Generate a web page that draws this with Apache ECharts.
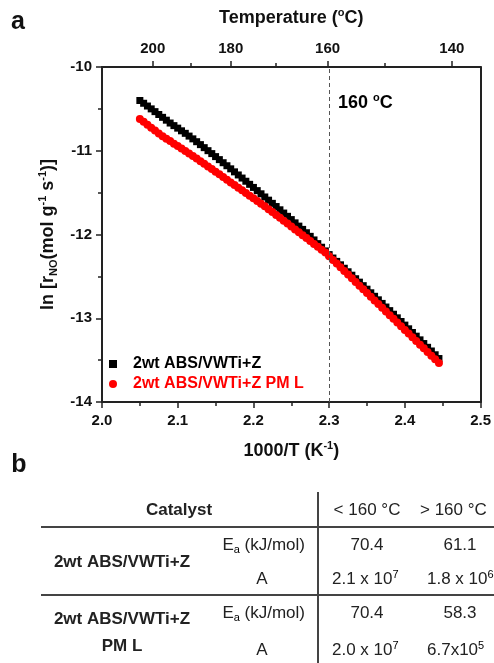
<!DOCTYPE html>
<html><head><meta charset="utf-8">
<script src="https://cdn.jsdelivr.net/npm/echarts@6/dist/echarts.min.js"></script>
<style>html,body{margin:0;padding:0;background:#fff}#c{width:494px;height:663px}</style>
</head><body><div id="c"></div>
<script>
// ---- data ----
const invT = [2.050,2.055,2.060,2.065,2.070,2.075,2.080,2.085,2.090,2.095,
  2.100,2.105,2.110,2.115,2.120,2.125,2.130,2.135,2.140,2.145,
  2.150,2.155,2.160,2.165,2.170,2.175,2.180,2.185,2.190,2.195,
  2.200,2.205,2.210,2.215,2.220,2.225,2.230,2.235,2.240,2.245,
  2.250,2.255,2.260,2.265,2.270,2.275,2.280,2.285,2.290,2.295,
  2.300,2.305,2.310,2.315,2.320,2.325,2.330,2.335,2.340,2.345,
  2.350,2.355,2.360,2.365,2.370,2.375,2.380,2.385,2.390,2.395,
  2.400,2.405,2.410,2.415,2.420,2.425,2.430,2.435,2.440,2.445];
const lnR_Z = [-10.400,-10.433,-10.466,-10.500,-10.533,-10.567,-10.601,-10.635,-10.669,-10.700,
  -10.730,-10.762,-10.792,-10.825,-10.858,-10.892,-10.927,-10.963,-10.999,-11.034,
  -11.070,-11.106,-11.143,-11.179,-11.216,-11.252,-11.289,-11.326,-11.364,-11.401,
  -11.438,-11.476,-11.514,-11.552,-11.590,-11.628,-11.666,-11.705,-11.744,-11.783,
  -11.822,-11.861,-11.900,-11.939,-11.979,-12.022,-12.065,-12.109,-12.152,-12.196,
  -12.240,-12.281,-12.321,-12.362,-12.403,-12.445,-12.486,-12.528,-12.569,-12.611,
  -12.653,-12.696,-12.738,-12.780,-12.823,-12.866,-12.909,-12.952,-12.995,-13.039,
  -13.082,-13.126,-13.170,-13.214,-13.258,-13.302,-13.347,-13.391,-13.436,-13.481];
const lnR_ZPML = [-10.620,-10.655,-10.690,-10.725,-10.759,-10.793,-10.826,-10.856,-10.885,-10.915,
  -10.944,-10.974,-11.003,-11.033,-11.062,-11.092,-11.124,-11.155,-11.187,-11.219,
  -11.251,-11.282,-11.314,-11.346,-11.378,-11.409,-11.441,-11.473,-11.505,-11.536,
  -11.568,-11.600,-11.632,-11.663,-11.698,-11.732,-11.767,-11.801,-11.836,-11.870,
  -11.905,-11.939,-11.974,-12.008,-12.043,-12.077,-12.112,-12.146,-12.181,-12.215,
  -12.259,-12.303,-12.347,-12.391,-12.435,-12.479,-12.523,-12.567,-12.611,-12.655,
  -12.699,-12.743,-12.787,-12.831,-12.875,-12.919,-12.963,-13.007,-13.051,-13.095,
  -13.139,-13.183,-13.227,-13.271,-13.315,-13.359,-13.403,-13.447,-13.491,-13.535];
const seriesNames = ['2wt ABS/VWTi+Z', '2wt ABS/VWTi+Z PM L'];
const seriesColors = ['#000000', '#ff0000'];
// top temperature axis: tick positions in 1000/T units, with labels (°C)
const topTickPos = [2.067, 2.170, 2.298, 2.462];
const topTickLabels = ['200', '180', '160', '140'];
const topMinorPos = [2.117, 2.230, 2.374];
const splitX = 2.3;
// table (panel b)
const tableHeader = ['Catalyst', '< 160 °C', '> 160 °C'];
const catalystLines = [['2wt ABS/VWTi+Z'], ['2wt ABS/VWTi+Z', 'PM L']];
const EaBelow = ['70.4', '70.4'];
const EaAbove = ['61.1', '58.3'];
const A_below = [['2.1 x 10', '7'], ['2.0 x 10', '7']];
const A_above = [['1.8 x 10', '6'], ['6.7x10', '5']];

// ---- chart ----
const FONT = '"Liberation Sans", Arial, sans-serif';
const chart = echarts.init(document.getElementById('c'), null, {renderer: 'canvas'});
const axLine = {show: true, lineStyle: {color: '#222', width: 2}};
const tickLbl = {fontFamily: FONT, fontWeight: 'bold', fontSize: 15, color: '#111'};

function pairs(ys) { return invT.map((x, i) => [x, ys[i]]); }

const G = [];
function txt(x, y, text, opt) {
  G.push(Object.assign({type: 'text', x: x, y: y, silent: true,
    style: Object.assign({text: text, fill: '#222', font: '17px ' + FONT,
      textAlign: 'center', textVerticalAlign: 'middle'}, opt || {})}));
}
function line(x1, y1, x2, y2, w, c) {
  G.push({type: 'line', silent: true, shape: {x1, y1, x2, y2},
    style: {stroke: c || '#333', lineWidth: w || 2}});
}
const richSup = {
  n: {fontFamily: FONT, fontSize: 17, lineHeight: 20, fill: '#222', color: '#222'},
  s: {fontFamily: FONT, fontSize: 11, lineHeight: 10, verticalAlign: 'top', color: '#222'},
  b: {fontFamily: FONT, fontSize: 11, lineHeight: 8, verticalAlign: 'bottom', color: '#222'}
};
// panel letters
txt(18, 22, 'a', {font: 'bold 25px ' + FONT, fill: '#111'});
txt(19, 465, 'b', {font: 'bold 25px ' + FONT, fill: '#111'});
// 160 °C annotation
G.push({type: 'text', x: 338, y: 103, silent: true, style: {
  text: '{n|160 }{s|o}{n|C}', textAlign: 'left', textVerticalAlign: 'middle',
  rich: {n: {fontFamily: FONT, fontWeight: 'bold', fontSize: 18, lineHeight: 22, color: '#111'},
         s: {fontFamily: FONT, fontWeight: 'bold', fontSize: 11, lineHeight: 12, verticalAlign: 'top', color: '#111'}}}});
// table lines
line(318, 492, 318, 663, 2, '#444');
line(41, 527, 494, 527, 2, '#444');
line(41, 595, 494, 595, 2, '#444');
// header
txt(179, 510, tableHeader[0], {font: 'bold 17px ' + FONT});
txt(367, 510, tableHeader[1]);
txt(420, 510, tableHeader[2], {textAlign: 'left'});
// rows
const rowY = [[545, 579], [613, 650]];
const catY = [[562], [619, 646]];
const catX = [[122], [122, 122]];
for (let r = 0; r < 2; r++) {
  catalystLines[r].forEach((s, k) => txt(catX[r][k], catY[r][k], s, {font: 'bold 17px ' + FONT}));
  G.push({type: 'text', x: 305, y: rowY[r][0], silent: true, style: {
    text: '{n|E}{b|a}{n| (kJ/mol)}', textAlign: 'right', textVerticalAlign: 'middle', rich: richSup}});
  txt(262, rowY[r][1], 'A');
  txt(367, rowY[r][0], EaBelow[r]);
  txt(460, rowY[r][0], EaAbove[r]);
  G.push({type: 'text', x: 332, y: rowY[r][1], silent: true, style: {
    text: '{n|' + A_below[r][0] + '}{s|' + A_below[r][1] + '}', textAlign: 'left', textVerticalAlign: 'middle', rich: richSup}});
  G.push({type: 'text', x: 427, y: rowY[r][1], silent: true, style: {
    text: '{n|' + A_above[r][0] + '}{s|' + A_above[r][1] + '}', textAlign: 'left', textVerticalAlign: 'middle', rich: richSup}});
}

const nameRich = {
  n: {fontFamily: FONT, fontWeight: 'bold', fontSize: 18, lineHeight: 22, color: '#111'},
  s: {fontFamily: FONT, fontWeight: 'bold', fontSize: 11, lineHeight: 12, verticalAlign: 'top', color: '#111'},
  b: {fontFamily: FONT, fontWeight: 'bold', fontSize: 11, lineHeight: 8, verticalAlign: 'bottom', color: '#111'}
};

const option = {
  animation: false,
  backgroundColor: '#fff',
  grid: {left: 102, right: 13, top: 67, bottom: 261},
  legend: {
    orient: 'vertical', left: 104, top: 351, itemGap: 4,
    itemWidth: 8, itemHeight: 8,
    textStyle: {fontFamily: FONT, fontWeight: 'bold', fontSize: 16, padding: [0, 0, 0, 11]},
    data: [
      {name: seriesNames[0], icon: 'rect', textStyle: {color: seriesColors[0]}},
      {name: seriesNames[1], icon: 'circle', textStyle: {color: seriesColors[1]}}
    ]
  },
  xAxis: [
    {type: 'value', position: 'bottom', min: 2.0, max: 2.5, interval: 0.1,
     axisLine: axLine, splitLine: {show: false},
     axisTick: {show: true, length: 6, lineStyle: {color: '#222', width: 1.5}},
     minorTick: {show: true, splitNumber: 2, length: 4, lineStyle: {color: '#222', width: 1.5}},
     axisLabel: Object.assign({margin: 11, formatter: v => v.toFixed(1)}, tickLbl),
     name: '{n|1000/T (K}{s|-1}{n|)}', nameLocation: 'middle', nameGap: 38,
     nameTextStyle: {rich: nameRich}},
    {type: 'value', position: 'top', min: 2.0, max: 2.5,
     axisLine: axLine, splitLine: {show: false},
     axisTick: {show: true, length: 6, customValues: topTickPos, lineStyle: {color: '#222', width: 1.5}},
     axisLabel: Object.assign({margin: 11, customValues: topTickPos,
       formatter: v => { let b = 0; topTickPos.forEach((p, i) => { if (Math.abs(p - v) < Math.abs(topTickPos[b] - v)) b = i; }); return topTickLabels[b]; }}, tickLbl),
     name: '{n|Temperature (}{s|o}{n|C)}', nameLocation: 'middle', nameGap: 38,
     nameTextStyle: {rich: nameRich}},
    {type: 'value', position: 'top', min: 2.0, max: 2.5,
     axisLine: {show: false}, splitLine: {show: false},
     axisTick: {show: true, length: 4, customValues: topMinorPos, lineStyle: {color: '#222', width: 1.5}},
     axisLabel: {show: false}}
  ],
  yAxis: [
    {type: 'value', position: 'left', min: -14, max: -10, interval: 1,
     axisLine: axLine, splitLine: {show: false},
     axisTick: {show: true, length: 6, lineStyle: {color: '#222', width: 1.5}},
     minorTick: {show: true, splitNumber: 2, length: 4, lineStyle: {color: '#222', width: 1.5}},
     axisLabel: Object.assign({margin: 10}, tickLbl),
     name: '{n|ln [r}{b|NO}{n|(mol g}{s|-1}{n| s}{s|-1}{n|)]}', nameLocation: 'middle', nameGap: 36,
     nameRotate: 90, nameTextStyle: {rich: nameRich}},
    {type: 'value', position: 'right', min: -14, max: -10,
     axisLine: axLine, axisTick: {show: false}, axisLabel: {show: false}, splitLine: {show: false}}
  ],
  series: [
    {name: seriesNames[0], type: 'scatter', symbol: 'rect', symbolSize: 7,
     itemStyle: {color: seriesColors[0], opacity: 1}, data: pairs(lnR_Z),
     markLine: {silent: true, symbol: 'none', label: {show: false},
       lineStyle: {color: '#555', type: [4, 3], width: 1}, data: [{xAxis: splitX}]}},
    {name: seriesNames[1], type: 'scatter', symbol: 'circle', symbolSize: 8,
     itemStyle: {color: seriesColors[1], opacity: 1}, data: pairs(lnR_ZPML)}
  ],
  graphic: G
};
chart.setOption(option);
</script></body></html>
